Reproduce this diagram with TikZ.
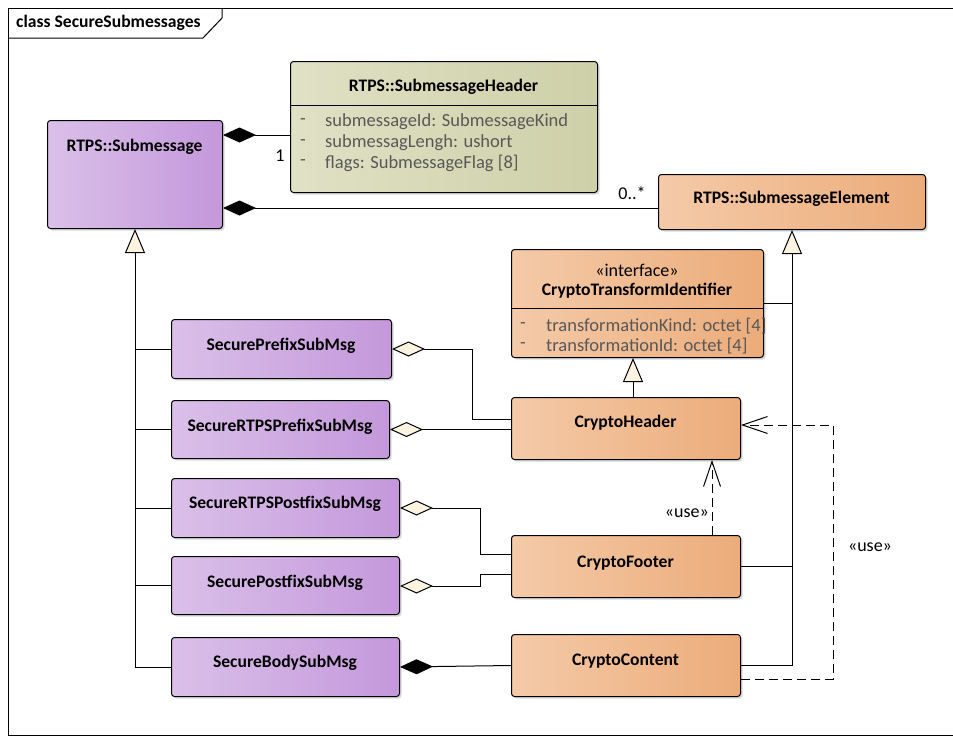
\documentclass[tikz,border=0pt]{standalone}
\usepackage{fontspec}
\setmainfont{Carlito}
\usetikzlibrary{arrows.meta,shadows}
\definecolor{purL}{RGB}{218,192,233}
\definecolor{purR}{RGB}{196,152,219}
\definecolor{orgL}{RGB}{244,202,168}
\definecolor{orgR}{RGB}{236,172,122}
\definecolor{olvL}{RGB}{224,225,197}
\definecolor{olvR}{RGB}{206,208,168}
\definecolor{cream}{RGB}{253,243,225}
\definecolor{attrgray}{RGB}{88,88,88}
\tikzset{
  box/.style={draw=black, line width=1pt, rounded corners=3pt, anchor=north west, inner sep=0pt,
    drop shadow={shadow xshift=2pt, shadow yshift=-2pt, fill=black!30, opacity=0.5}},
  purbox/.style={box, left color=purL, right color=purR},
  orgbox/.style={box, left color=orgL, right color=orgR},
  olvbox/.style={box, left color=olvL, right color=olvR},
  title/.style={font=\fontsize{17.6}{20}\selectfont\bfseries, inner sep=0pt},
  attr/.style={font=\fontsize{18.5}{21}\selectfont, text=attrgray, inner sep=0pt, anchor=west},
  lbl/.style={font=\fontsize{18}{21}\selectfont, inner sep=0pt},
  conn/.style={line width=1pt, draw=black},
  gen/.style={conn, -{Triangle[length=24pt, width=20pt, fill=cream, line width=1pt]}},
  compo/.style={conn, -{Diamond[length=33pt, width=15pt, fill=black, line width=1pt]}},
  aggr/.style={conn, -{Diamond[length=33pt, width=15pt, fill=cream, line width=1pt]}},
  dep/.style={conn, dash pattern=on 9pt off 5pt, -{Straight Barb[length=25pt, width=17pt, line width=1pt]}},
}
\begin{document}
\begin{tikzpicture}[x=1pt, y=-1pt]
\useasboundingbox (0,0) rectangle (953,736);
% frame
\draw[line width=1pt] (8,735) -- (8,8) -- (953,8);
\draw[line width=1pt] (8,735) -- (953,735);
\draw[line width=1pt] (8,38) -- (203,38) -- (222,18) -- (222,8);
\node[title, anchor=west] (frametitle) at (16,23) {class SecureSubmessages};

% RTPS::Submessage
\node[purbox, minimum width=175pt, minimum height=108pt] (sub) at (47,120) {};
\node[title] (subt) at (134.5,147) {RTPS::Submessage};

% RTPS::SubmessageHeader
\node[olvbox, minimum width=307pt, minimum height=131pt] (hdr) at (290,61) {};
\node[title] (hdrt) at (443.5,87) {RTPS::SubmessageHeader};
\draw[line width=1pt] (hdr.west |- 0,105) -- (hdr.east |- 0,105);
\node[attr] (h1d) at (300,122) {-};
\node[attr] (h1) at (325,122) {submessageId: SubmessageKind};
\node[attr] (h2d) at (300,143) {-};
\node[attr] (h2) at (325,143) {submessagLengh: ushort};
\node[attr] (h3d) at (300,163) {-};
\node[attr] (h3) at (325,163) {flags: SubmessageFlag [8]};

% RTPS::SubmessageElement
\node[orgbox, minimum width=267pt, minimum height=55pt] (elem) at (658,174) {};
\node[title] (elemt) at (791.5,199) {RTPS::SubmessageElement};

% CryptoTransformIdentifier
\node[orgbox, minimum width=252pt, minimum height=108pt] (cti) at (511,249) {};
\node[lbl] (ctis) at (637,270) {«interface»};
\node[title] (ctit) at (637,291) {CryptoTransformIdentifier};
\draw[line width=1pt] (cti.west |- 0,308) -- (cti.east |- 0,308);
\node[attr] (c1d) at (520,326) {-};
\node[attr] (c1) at (546,326) {transformationKind: octet [4]};
\node[attr] (c2d) at (520,346) {-};
\node[attr] (c2) at (546,346) {transformationId: octet [4]};

% Crypto boxes
\node[orgbox, minimum width=229pt, minimum height=62pt] (chdr) at (511,397) {};
\node[title] (chdrt) at (625.5,423) {CryptoHeader};
\node[orgbox, minimum width=229pt, minimum height=62pt] (cfoot) at (511,535) {};
\node[title] (cfoott) at (625.5,563) {CryptoFooter};
\node[orgbox, minimum width=229pt, minimum height=62pt] (ccont) at (511,634) {};
\node[title] (ccontt) at (625.5,661) {CryptoContent};

% Secure submessages
\node[purbox, minimum width=220pt, minimum height=59pt] (spre) at (171,319) {};
\node[title] (spret) at (281,346) {SecurePrefixSubMsg};
\node[purbox, minimum width=218pt, minimum height=58pt] (srpre) at (171,400) {};
\node[title] (srpret) at (280,427) {SecureRTPSPrefixSubMsg};
\node[purbox, minimum width=228pt, minimum height=59pt] (srpost) at (171,478) {};
\node[title] (srpostt) at (285,504) {SecureRTPSPostfixSubMsg};
\node[purbox, minimum width=228pt, minimum height=58pt] (spost) at (171,556) {};
\node[title] (spostt) at (285,583) {SecurePostfixSubMsg};
\node[purbox, minimum width=228pt, minimum height=59pt] (sbody) at (171,637) {};
\node[title] (sbodyt) at (285,663) {SecureBodySubMsg};

% compositions to Submessage
\draw[compo] (hdr.west |- 0,135) -- (sub.east |- 0,135);
\draw[compo] (elem.west |- 0,208) -- (sub.east |- 0,208);
\node[lbl] (m1) at (280,156) {1};
\node[lbl] (m2) at (632,193) {0..*};

% generalization tree (left)
\draw[gen] (sbody.west) -| (sub.south);
\draw[conn] (spre.west) -- (spre.west -| sub.south);
\draw[conn] (srpre.west) -- (srpre.west -| sub.south);
\draw[conn] (srpost.west) -- (srpost.west -| sub.south);
\draw[conn] (spost.west) -- (spost.west -| sub.south);

% generalization tree (right)
\draw[gen] (ccont.east) -| (elem.south);
\draw[conn] (cfoot.east) -- (cfoot.east -| elem.south);
\draw[conn] (cti.east) -- (cti.east -| elem.south);

% CryptoHeader -> CryptoTransformIdentifier
\coordinate (gx) at (633,0);
\draw[gen] (chdr.north -| gx) -- (cti.south -| gx);

% aggregations
\coordinate (k1) at (472,349);
\coordinate (k2) at (480,508);
\coordinate (k3) at (480,586);
\draw[aggr] (chdr.west |- 0,419) -| (k1) -- (spre.east |- k1);
\draw[aggr] (chdr.west |- srpre.east) -- (srpre.east);
\draw[aggr] (cfoot.west |- 0,554) -| (k2) -- (srpost.east |- k2);
\draw[aggr] (cfoot.west |- 0,574) -| (k3) -- (spost.east |- k3);
\draw[compo] (ccont.west) -- (sbody.east);

% dependencies
\coordinate (dx) at (712,0);
\draw[dep] (cfoot.north -| dx) -- (chdr.south -| dx);
\node[lbl, anchor=east] (use1) at (709,513) {«use»};
\coordinate (d2) at (833,425);
\draw[dep] (ccont.east |- 0,679) -| (d2) -- (chdr.east |- d2);
\node[lbl] (use2) at (870,547) {«use»};
\end{tikzpicture}
\end{document}
